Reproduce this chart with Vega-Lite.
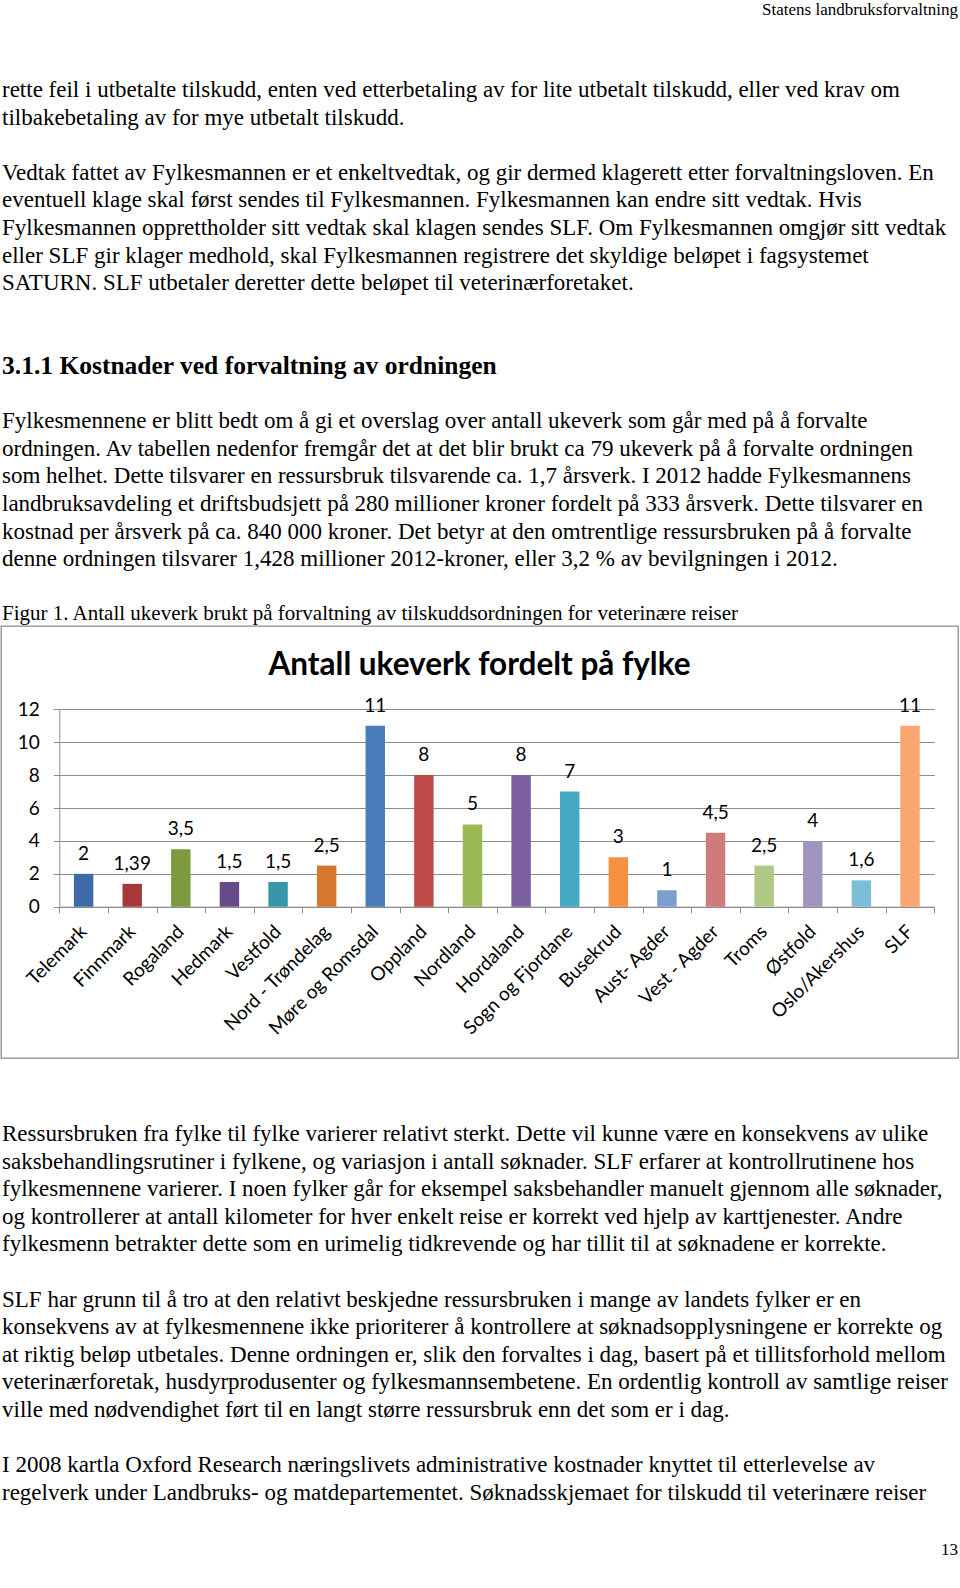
{
  "$schema": "https://vega.github.io/schema/vega-lite/v6.json",
  "background": "white",
  "padding": 0,
  "spacing": 0,
  "bounds": "flush",
  "config": {
    "view": {"stroke": null},
    "locale": {"number": {"decimal": ",", "thousands": " ", "grouping": [3], "currency": ["", " kr"]}}
  },
  "vconcat": [
    {
      "width": 960,
      "height": 626,
      "data": {"values": [
        {"kind": "header", "side": 1, "line": -2.9, "text": "Statens landbruksforvaltning"},
        {"kind": "body", "side": 0, "line": 0, "text": "rette feil i utbetalte tilskudd, enten ved etterbetaling av for lite utbetalt tilskudd, eller ved krav om"},
        {"kind": "body", "side": 0, "line": 1, "text": "tilbakebetaling av for mye utbetalt tilskudd."},
        {"kind": "body", "side": 0, "line": 3, "text": "Vedtak fattet av Fylkesmannen er et enkeltvedtak, og gir dermed klagerett etter forvaltningsloven. En"},
        {"kind": "body", "side": 0, "line": 4, "text": "eventuell klage skal først sendes til Fylkesmannen. Fylkesmannen kan endre sitt vedtak. Hvis"},
        {"kind": "body", "side": 0, "line": 5, "text": "Fylkesmannen opprettholder sitt vedtak skal klagen sendes SLF. Om Fylkesmannen omgjør sitt vedtak"},
        {"kind": "body", "side": 0, "line": 6, "text": "eller SLF gir klager medhold, skal Fylkesmannen registrere det skyldige beløpet i fagsystemet"},
        {"kind": "body", "side": 0, "line": 7, "text": "SATURN. SLF utbetaler deretter dette beløpet til veterinærforetaket."},
        {"kind": "heading", "side": 0, "line": 10, "text": "3.1.1 Kostnader ved forvaltning av ordningen"},
        {"kind": "body", "side": 0, "line": 12, "text": "Fylkesmennene er blitt bedt om å gi et overslag over antall ukeverk som går med på å forvalte"},
        {"kind": "body", "side": 0, "line": 13, "text": "ordningen. Av tabellen nedenfor fremgår det at det blir brukt ca 79 ukeverk på å forvalte ordningen"},
        {"kind": "body", "side": 0, "line": 14, "text": "som helhet. Dette tilsvarer en ressursbruk tilsvarende ca. 1,7 årsverk. I 2012 hadde Fylkesmannens"},
        {"kind": "body", "side": 0, "line": 15, "text": "landbruksavdeling et driftsbudsjett på 280 millioner kroner fordelt på 333 årsverk. Dette tilsvarer en"},
        {"kind": "body", "side": 0, "line": 16, "text": "kostnad per årsverk på ca. 840 000 kroner. Det betyr at den omtrentlige ressursbruken på å forvalte"},
        {"kind": "body", "side": 0, "line": 17, "text": "denne ordningen tilsvarer 1,428 millioner 2012-kroner, eller 3,2 % av bevilgningen i 2012."},
        {"kind": "caption", "side": 0, "line": 19, "text": "Figur 1. Antall ukeverk brukt på forvaltning av tilskuddsordningen for veterinære reiser"}
      ]},
      "encoding": {
        "x": {"field": "side", "type": "quantitative", "scale": {"domain": [0, 1], "range": [1, 957]}, "axis": null},
        "y": {"field": "line", "type": "quantitative", "scale": {"domain": [-3.261, 19.42], "reverse": true, "nice": false, "zero": false}, "axis": null},
        "text": {"field": "text"}
      },
      "layer": [
        {"transform": [{"filter": "datum.kind === 'body'"}], "mark": {"type": "text", "align": "left", "baseline": "middle", "font": "Liberation Serif", "fontSize": 23, "color": "#000"}},
        {"transform": [{"filter": "datum.kind === 'heading'"}], "mark": {"type": "text", "align": "left", "baseline": "middle", "font": "Liberation Serif", "fontSize": 25.5, "fontWeight": "bold", "color": "#000"}},
        {"transform": [{"filter": "datum.kind === 'caption'"}], "mark": {"type": "text", "align": "left", "baseline": "middle", "font": "Liberation Serif", "fontSize": 21, "color": "#000"}},
        {"transform": [{"filter": "datum.kind === 'header'"}], "mark": {"type": "text", "align": "right", "baseline": "middle", "font": "Liberation Serif", "fontSize": 17, "color": "#000"}}
      ]
    },
    {
      "width": 957,
      "height": 432,
      "view": {"stroke": "#8c8c8c", "strokeWidth": 1.3},
      "title": {"text": "Antall ukeverk fordelt på fylke", "font": "Lato", "fontSize": 31.5, "fontWeight": "bold", "color": "#000", "anchor": "middle", "frame": "group", "offset": -55},
      "data": {"values": [
        {"fylke": "Telemark", "ukeverk": 2},
        {"fylke": "Finnmark", "ukeverk": 1.39},
        {"fylke": "Rogaland", "ukeverk": 3.5},
        {"fylke": "Hedmark", "ukeverk": 1.5},
        {"fylke": "Vestfold", "ukeverk": 1.5},
        {"fylke": "Nord - Trøndelag", "ukeverk": 2.5},
        {"fylke": "Møre og Romsdal", "ukeverk": 11},
        {"fylke": "Oppland", "ukeverk": 8},
        {"fylke": "Nordland", "ukeverk": 5},
        {"fylke": "Hordaland", "ukeverk": 8},
        {"fylke": "Sogn og Fjordane", "ukeverk": 7},
        {"fylke": "Busekrud", "ukeverk": 3},
        {"fylke": "Aust- Agder", "ukeverk": 1},
        {"fylke": "Vest - Agder", "ukeverk": 4.5},
        {"fylke": "Troms", "ukeverk": 2.5},
        {"fylke": "Østfold", "ukeverk": 4},
        {"fylke": "Oslo/Akershus", "ukeverk": 1.6},
        {"fylke": "SLF", "ukeverk": 11}
      ]},
      "encoding": {
        "x": {
          "field": "fylke", "type": "nominal", "sort": null,
          "scale": {"range": [58.3, 933.3], "paddingInner": 0, "paddingOuter": 0},
          "axis": {"orient": "bottom", "offset": -151.3, "title": null, "labels": false, "tickBand": "extent", "tickSize": 6, "tickColor": "#8c8c8c", "domainColor": "#8c8c8c", "grid": false}
        },
        "y": {
          "field": "ukeverk", "type": "quantitative",
          "scale": {"domain": [0, 12], "range": [280.7, 83.3], "nice": false},
          "axis": {"values": [0, 2, 4, 6, 8, 10, 12], "offset": -58.3, "title": null, "grid": true, "gridColor": "#8c8c8c", "gridOpacity": 1, "domainColor": "#8c8c8c", "tickColor": "#8c8c8c", "tickSize": 6, "labelFont": "Lato", "labelFontSize": 19, "labelColor": "#000", "labelPadding": 14, "format": "d"}
        }
      },
      "layer": [
        {
          "mark": {"type": "bar", "width": {"band": 0.4}},
          "encoding": {
            "color": {
              "field": "fylke", "type": "nominal", "sort": null, "legend": null,
              "scale": {
                "domain": ["Telemark", "Finnmark", "Rogaland", "Hedmark", "Vestfold", "Nord - Trøndelag", "Møre og Romsdal", "Oppland", "Nordland", "Hordaland", "Sogn og Fjordane", "Busekrud", "Aust- Agder", "Vest - Agder", "Troms", "Østfold", "Oslo/Akershus", "SLF"],
                "range": ["#3E6BA8", "#A6383A", "#7D9A3E", "#684A8B", "#3597A8", "#D6772F", "#4A7EBB", "#BE4B48", "#98B954", "#7C5FA0", "#46AAC4", "#F59140", "#7D9CD0", "#D07B7B", "#B0CA86", "#A194C0", "#7BBED5", "#F9A672"]
              }
            }
          }
        },
        {
          "mark": {"type": "text", "dy": -14, "baseline": "alphabetic", "font": "Lato", "fontSize": 19, "color": "#000"},
          "encoding": {"text": {"field": "ukeverk", "type": "quantitative", "format": ".3~r"}}
        },
        {
          "mark": {"type": "text", "angle": -45, "align": "right", "baseline": "middle", "font": "Lato", "fontSize": 19, "color": "#000", "clip": true, "yOffset": 22},
          "encoding": {"text": {"field": "fylke", "type": "nominal"}, "y": {"datum": 0}}
        }
      ]
    },
    {
      "width": 960,
      "height": 530,
      "data": {"values": [
        {"kind": "body", "side": 0, "line": 0, "text": "Ressursbruken fra fylke til fylke varierer relativt sterkt. Dette vil kunne være en konsekvens av ulike"},
        {"kind": "body", "side": 0, "line": 1, "text": "saksbehandlingsrutiner i fylkene, og variasjon i antall søknader. SLF erfarer at kontrollrutinene hos"},
        {"kind": "body", "side": 0, "line": 2, "text": "fylkesmennene varierer. I noen fylker går for eksempel saksbehandler manuelt gjennom alle søknader,"},
        {"kind": "body", "side": 0, "line": 3, "text": "og kontrollerer at antall kilometer for hver enkelt reise er korrekt ved hjelp av karttjenester. Andre"},
        {"kind": "body", "side": 0, "line": 4, "text": "fylkesmenn betrakter dette som en urimelig tidkrevende og har tillit til at søknadene er korrekte."},
        {"kind": "body", "side": 0, "line": 6, "text": "SLF har grunn til å tro at den relativt beskjedne ressursbruken i mange av landets fylker er en"},
        {"kind": "body", "side": 0, "line": 7, "text": "konsekvens av at fylkesmennene ikke prioriterer å kontrollere at søknadsopplysningene er korrekte og"},
        {"kind": "body", "side": 0, "line": 8, "text": "at riktig beløp utbetales. Denne ordningen er, slik den forvaltes i dag, basert på et tillitsforhold mellom"},
        {"kind": "body", "side": 0, "line": 9, "text": "veterinærforetak, husdyrprodusenter og fylkesmannsembetene. En ordentlig kontroll av samtlige reiser"},
        {"kind": "body", "side": 0, "line": 10, "text": "ville med nødvendighet ført til en langt større ressursbruk enn det som er i dag."},
        {"kind": "body", "side": 0, "line": 12, "text": "I 2008 kartla Oxford Research næringslivets administrative kostnader knyttet til etterlevelse av"},
        {"kind": "body", "side": 0, "line": 13, "text": "regelverk under Landbruks- og matdepartementet. Søknadsskjemaet for tilskudd til veterinære reiser"},
        {"kind": "pagenum", "side": 1, "line": 15.07, "text": "13"}
      ]},
      "encoding": {
        "x": {"field": "side", "type": "quantitative", "scale": {"domain": [0, 1], "range": [1, 957]}, "axis": null},
        "y": {"field": "line", "type": "quantitative", "scale": {"domain": [-2.754, 16.449], "reverse": true, "nice": false, "zero": false}, "axis": null},
        "text": {"field": "text"}
      },
      "layer": [
        {"transform": [{"filter": "datum.kind === 'body'"}], "mark": {"type": "text", "align": "left", "baseline": "middle", "font": "Liberation Serif", "fontSize": 23, "color": "#000"}},
        {"transform": [{"filter": "datum.kind === 'pagenum'"}], "mark": {"type": "text", "align": "right", "baseline": "middle", "font": "Liberation Serif", "fontSize": 17, "color": "#000"}}
      ]
    }
  ]
}
